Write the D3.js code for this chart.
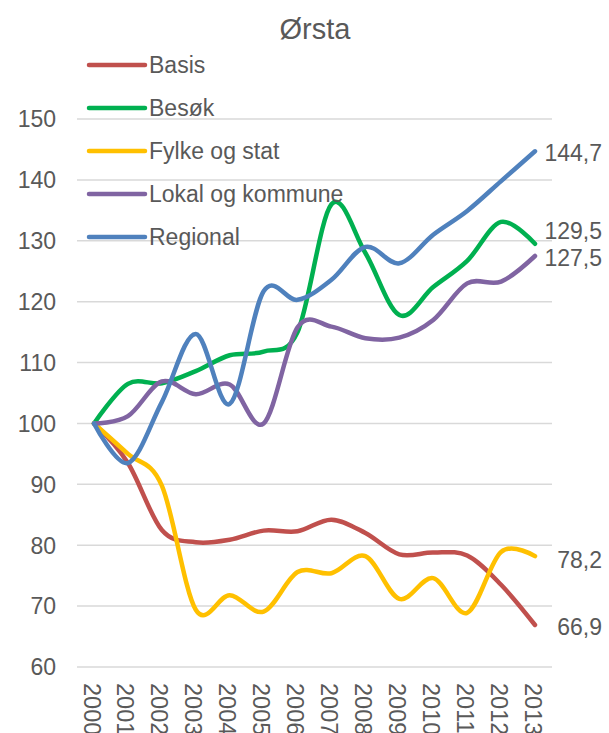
<!DOCTYPE html>
<html>
<head>
<meta charset="utf-8">
<script src="https://cdn.jsdelivr.net/npm/d3@7"></script>
<style>
  body { margin: 0; background: #fff; }
  svg text { font-family: "Liberation Sans", Arial, sans-serif; fill: #595959; }
</style>
</head>
<body>
<svg id="chart" width="609" height="733"></svg>
<script>
var years = ["2000","2001","2002","2003","2004","2005","2006","2007","2008","2009","2010","2011","2012","2013"]
var yTicks = [60,70,80,90,100,110,120,130,140,150]

var seriesNames = ["Basis","Besøk","Fylke og stat","Lokal og kommune","Regional"]
var seriesColors = ["#C0504D","#00B050","#FFC000","#8064A2","#4F81BD"]

var basis    = [100, 93.5, 82.5, 80.5, 80.9, 82.4, 82.3, 84.2, 82.0, 78.5, 78.8, 78.3, 73.5, 66.9]
var besok    = [100, 106.5, 106.6, 108.6, 111.2, 111.8, 115.0, 136.0, 128.0, 117.8, 122.4, 126.7, 133.1, 129.5]
var fylke    = [100, 95.0, 89.8, 69.4, 71.8, 69.1, 75.6, 75.4, 78.2, 71.2, 74.6, 68.9, 78.9, 78.2]
var lokal    = [100, 101.2, 106.9, 104.8, 106.4, 100.0, 115.8, 115.9, 114.0, 114.1, 117.0, 123.0, 123.3, 127.5]
var regional = [100, 93.5, 103.5, 114.7, 103.2, 121.7, 120.3, 123.6, 129.0, 126.3, 131.0, 134.9, 139.8, 144.7]

var endLabels = ["66,9","129,5","78,2","127,5","144,7"]

var allSeries = [basis, besok, fylke, lokal, regional]

var svg = d3.select("#chart")

var x = d3.scalePoint().domain(years).range([94, 535])
var y = d3.scaleLinear().domain([60,150]).range([667, 119])

// title
svg.append("text").attr("x", 315).attr("y", 39).attr("text-anchor","middle")
	.style("font-size","29px").text("Ørsta")

// gridlines
svg.append("g").selectAll("line").data(yTicks).enter().append("line")
	.attr("x1", 77).attr("x2", 552)
	.attr("y1", d => y(d)).attr("y2", d => y(d))
	.style("stroke","#D9D9D9").style("stroke-width",1.5)

// y labels
svg.append("g").selectAll("text").data(yTicks).enter().append("text")
	.attr("x", 56).attr("y", d => y(d)).attr("dy","0.36em")
	.attr("text-anchor","end").style("font-size","23px").text(d => d)

// x labels, rotated
svg.append("g").selectAll("text").data(years).enter().append("text")
	.attr("transform", d => "translate(" + (x(d)-2) + ",683) rotate(90)")
	.attr("dy","0.36em").style("font-size","23.5px").text(d => d)

// lines
var line = d3.line().x((d,i) => x(years[i])).y(d => y(d)).curve(d3.curveCardinal.tension(0))

svg.append("g").selectAll("path").data(allSeries).enter().append("path")
	.attr("d", d => line(d))
	.style("fill","none")
	.style("stroke", (d,i) => seriesColors[i])
	.style("stroke-width",4.5)
	.style("stroke-linecap","round")
	.style("stroke-linejoin","round")

// end labels
var nudge = [2, -13, 4, 2, 1]
svg.append("g").selectAll("text").data(allSeries).enter().append("text")
	.attr("x", 602)
	.attr("y", (d,i) => y(d[d.length-1]) + nudge[i])
	.attr("dy","0.36em").attr("text-anchor","end")
	.style("font-size","23px")
	.text((d,i) => endLabels[i])

// legend
var legend = svg.append("g").selectAll("g").data(seriesNames).enter().append("g")
	.attr("transform", (d,i) => "translate(0," + (65 + i*43) + ")")
legend.append("line").attr("x1",89).attr("x2",145).attr("y1",0).attr("y2",0)
	.style("stroke", (d,i) => seriesColors[i]).style("stroke-width",4.5).style("stroke-linecap","round")
legend.append("text").attr("x",149).attr("dy","0.36em").style("font-size","23px").text(d => d)
</script>
</body>
</html>
